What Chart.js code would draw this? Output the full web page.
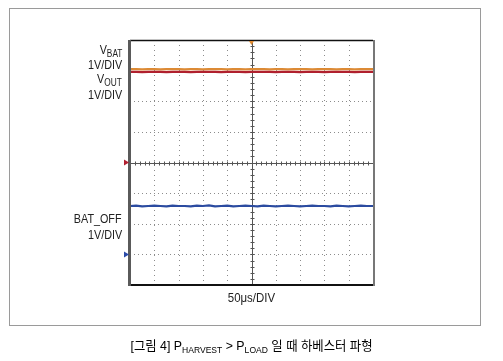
<!DOCTYPE html>
<html><head><meta charset="utf-8">
<script src="https://cdn.jsdelivr.net/npm/chart.js@4/dist/chart.umd.min.js"></script>
<style>
html,body{margin:0;padding:0;background:#fff;}
#wrap{position:relative;width:503px;height:361px;overflow:hidden;font-family:"Liberation Sans",Arial,sans-serif;color:#222;}
#c{position:absolute;left:0;top:0;}
.lbl{position:absolute;font-size:13px;line-height:14px;white-space:nowrap;}
.r{right:381px;text-align:right;transform:scaleX(0.83);transform-origin:right center;}
.lbl sub{font-size:10px;vertical-align:-3px;line-height:0;}
#box{position:absolute;left:9px;top:8px;width:470px;height:316px;border:1.5px solid #9a9a9a;}
#xt{left:0;width:503px;text-align:center;top:291px;transform:scaleX(0.88);transform-origin:251px center;}
#cap{position:absolute;left:0;width:503px;text-align:center;top:335px;font-family:"Liberation Sans","Noto Sans CJK KR",sans-serif;font-size:13px;font-weight:400;color:#000;transform:scaleX(0.95);transform-origin:252px center;}
#cap sub{font-size:9px;vertical-align:-3px;line-height:0;}
</style></head>
<body><div id="wrap">
<div id="box"></div>
<canvas id="c" width="503" height="361"></canvas>
<div class="lbl r" style="top:43px">V<sub>BAT</sub></div>
<div class="lbl r" style="top:58px">1V/DIV</div>
<div class="lbl r" style="top:72px">V<sub>OUT</sub></div>
<div class="lbl r" style="top:88px">1V/DIV</div>
<div class="lbl r" style="top:212px">BAT_OFF</div>
<div class="lbl r" style="top:228px">1V/DIV</div>
<div class="lbl" id="xt">50μs/DIV</div>
<div id="cap">[그림 4] P<sub>HARVEST</sub> &gt; P<sub>LOAD</sub> 일 때 하베스터 파형</div>
</div>
<script>
// time in divisions (50us/div), 0..10
const timeDiv = [0,0.25,0.5,0.75,1,1.25,1.5,1.75,2,2.25,2.5,2.75,3,3.25,3.5,3.75,4,4.25,4.5,4.75,5,5.25,5.5,5.75,6,6.25,6.5,6.75,7,7.25,7.5,7.75,8,8.25,8.5,8.75,9,9.25,9.5,9.75,10];
// traces in divisions (1V/div), ground of VBAT/VOUT at 4 div, BAT_OFF ground at 1 div
const vbat   = [7.05,7.05,7.04,7.05,7.05,7.04,7.05,7.05,7.05,7.04,7.05,7.05,7.04,7.05,7.05,7.05,7.04,7.05,7.05,7.04,7.05,7.05,7.05,7.04,7.05,7.05,7.04,7.05,7.05,7.05,7.04,7.05,7.05,7.05,7.04,7.05,7.05,7.04,7.05,7.05,7.05];
const vout   = [6.96,6.96,6.95,6.96,6.96,6.96,6.95,6.96,6.96,6.96,6.95,6.96,6.96,6.96,6.96,6.95,6.96,6.96,6.96,6.95,6.96,6.96,6.96,6.96,6.95,6.96,6.96,6.96,6.95,6.96,6.96,6.96,6.95,6.96,6.96,6.96,6.96,6.95,6.96,6.96,6.96];
const batOff = [2.58,2.59,2.57,2.58,2.59,2.58,2.57,2.59,2.58,2.58,2.57,2.59,2.58,2.60,2.57,2.58,2.59,2.57,2.58,2.59,2.58,2.57,2.59,2.58,2.57,2.58,2.59,2.58,2.57,2.58,2.59,2.58,2.58,2.57,2.59,2.58,2.57,2.58,2.59,2.58,2.58];
const markers = [{v:4,color:'#b22030'},{v:1,color:'#2a4aa8'}];
const triggerX = 5;

const scopePlugin = {
  id:'scope',
  beforeDatasetsDraw(chart){
    const {ctx, chartArea:a, scales:{x,y}} = chart;
    ctx.save();
    ctx.strokeStyle='#8c8c8c'; ctx.lineWidth=1; ctx.setLineDash([1,4]);
    for(let i=1;i<10;i++){ if(i===5) continue; const px=Math.round(x.getPixelForValue(i))+0.5;
      ctx.beginPath(); ctx.moveTo(px,a.top); ctx.lineTo(px,a.bottom); ctx.stroke(); }
    ctx.setLineDash([1,3]);
    for(let j=1;j<8;j++){ if(j===4) continue; const py=Math.round(y.getPixelForValue(j))+0.5;
      ctx.beginPath(); ctx.moveTo(a.left,py); ctx.lineTo(a.right,py); ctx.stroke(); }
    ctx.setLineDash([]);
    ctx.strokeStyle='#555';
    const cx=Math.round(x.getPixelForValue(5))+0.5, cy=Math.round(y.getPixelForValue(4))+0.5;
    ctx.beginPath(); ctx.moveTo(cx,a.top); ctx.lineTo(cx,a.bottom); ctx.stroke();
    ctx.beginPath(); ctx.moveTo(a.left,cy); ctx.lineTo(a.right,cy); ctx.stroke();
    for(let t=0;t<=50;t++){ const px=Math.round(x.getPixelForValue(t/5))+0.5;
      ctx.beginPath(); ctx.moveTo(px,cy-2); ctx.lineTo(px,cy+2); ctx.stroke(); }
    for(let t=0;t<=40;t++){ const py=Math.round(y.getPixelForValue(t/5))+0.5;
      ctx.beginPath(); ctx.moveTo(cx-2,py); ctx.lineTo(cx+2,py); ctx.stroke(); }
    ctx.restore();
  },
  afterDatasetsDraw(chart){
    const {ctx, chartArea:a, scales:{x,y}} = chart;
    ctx.save();
    ctx.strokeStyle='#111'; ctx.lineWidth=1.5;
    ctx.beginPath(); ctx.moveTo(a.left,a.top+0.5); ctx.lineTo(a.right,a.top+0.5); ctx.stroke();
    ctx.lineWidth=2;
    ctx.beginPath(); ctx.moveTo(a.left,a.bottom); ctx.lineTo(a.right+1,a.bottom); ctx.stroke();
    ctx.strokeStyle='#5a5a5a'; ctx.lineWidth=3;
    ctx.beginPath(); ctx.moveTo(a.left-0.5,a.top); ctx.lineTo(a.left-0.5,a.bottom+1); ctx.stroke();
    ctx.strokeStyle='#777'; ctx.lineWidth=2;
    ctx.beginPath(); ctx.moveTo(a.right+1,a.top); ctx.lineTo(a.right+1,a.bottom+1); ctx.stroke();
    markers.forEach(m=>{ const py=y.getPixelForValue(m.v);
      ctx.fillStyle=m.color; ctx.beginPath(); ctx.moveTo(a.left-6,py-3); ctx.lineTo(a.left-1,py); ctx.lineTo(a.left-6,py+3); ctx.closePath(); ctx.fill(); });
    const tx=x.getPixelForValue(triggerX);
    ctx.fillStyle='#e08a30'; ctx.beginPath(); ctx.moveTo(tx-2.5,a.top+1); ctx.lineTo(tx+2.5,a.top+1); ctx.lineTo(tx,a.top+5); ctx.closePath(); ctx.fill();
    ctx.restore();
  }
};

const mk = (d,c)=>({data:timeDiv.map((t,i)=>({x:t,y:d[i]})),borderColor:c,borderWidth:2.2,pointRadius:0,tension:0});
new Chart(document.getElementById('c'),{
  type:'line',
  data:{datasets:[mk(batOff,'#2b4ba0'),mk(vout,'#b0202e'),mk(vbat,'#dc8a35')]},
  options:{
    responsive:false, animation:false, events:[],
    layout:{padding:{left:130,right:130,top:40,bottom:76}},
    plugins:{legend:{display:false},tooltip:{enabled:false}},
    scales:{
      x:{type:'linear',min:0,max:10,ticks:{display:false},grid:{display:false,drawTicks:false},border:{display:false}},
      y:{type:'linear',min:0,max:8,ticks:{display:false},grid:{display:false,drawTicks:false},border:{display:false}}
    }
  },
  plugins:[scopePlugin]
});
</script>
</body></html>
